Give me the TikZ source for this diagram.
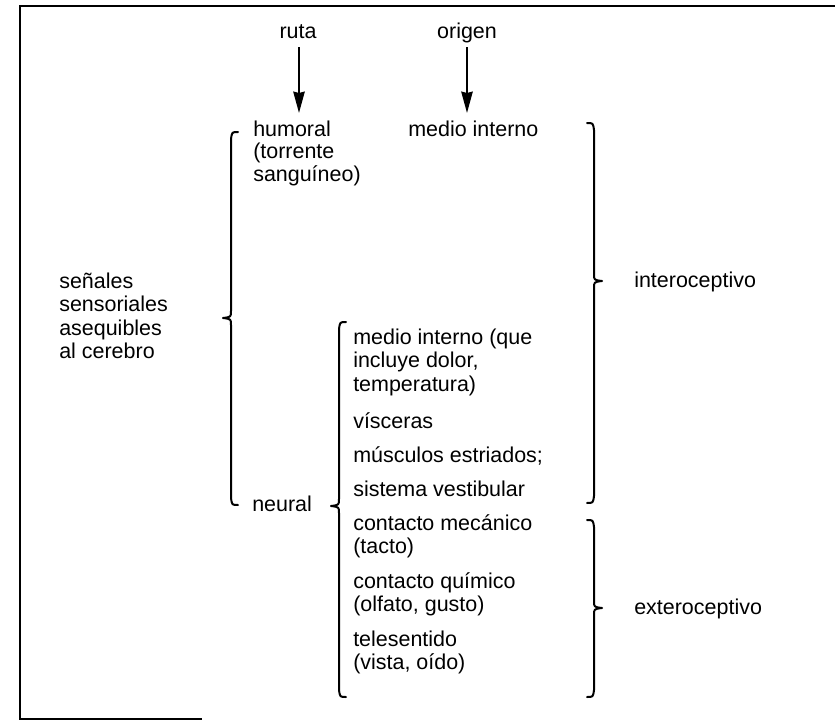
\documentclass[tikz,border=0pt]{standalone}
\usepackage{fontspec}
\setmainfont{Liberation Sans}
\usetikzlibrary{arrows.meta}

% closing brace: x of the stem, top, cusp, bottom (pixel units, y downwards)
\newcommand\BrClose[4]{%
  \draw[brc] (#1-7,#2) .. controls (#1-1,#2) .. (#1,#2+7) -- (#1,#3-7)
    .. controls (#1,#3-1) .. (#1+8,#3) .. controls (#1,#3+1) .. (#1,#3+7)
    -- (#1,#4-7) .. controls (#1-1,#4) .. (#1-7,#4);}
% opening brace: x of the stem, top, cusp, bottom
\newcommand\BrOpen[4]{%
  \draw[brc] (#1+7,#2) .. controls (#1+1,#2) .. (#1,#2+7) -- (#1,#3-7)
    .. controls (#1,#3-1) .. (#1-8,#3) .. controls (#1,#3+1) .. (#1,#3+7)
    -- (#1,#4-7) .. controls (#1+1,#4) .. (#1+7,#4);}

\begin{document}
\begin{tikzpicture}[x=0.75pt,y=-0.75pt,
  txt/.style={inner sep=0pt,anchor=base west,font=\fontsize{16.1}{17}\selectfont},
  hdr/.style={txt,anchor=base},
  brc/.style={line width=1.5pt,line cap=round,line join=round},
  frame/.style={line width=1.2pt},
  flecha/.style={line width=1.6pt,-{Stealth[length=16pt,width=8.5pt,inset=1pt]}}]

\useasboundingbox (0,0) rectangle (835,721);

% open frame
\draw[frame] (835,6) -- (20,6) -- (20,719) -- (202,719);

% column headings and arrows
\node[hdr] (ruta) at (298,38) {ruta};
\node[hdr] (origen) at (467,38) {origen};
\coordinate (rutafin) at (299,113);
\coordinate (origenfin) at (467,113);
\draw[flecha] ([xshift=0.75pt,yshift=-7pt]ruta.base) -- (rutafin);
\draw[flecha] ([yshift=-7pt]origen.base) -- (origenfin);

% left label
\node[txt] (s1) at (59,288) {señales};
\node[txt] (s2) at (59,311.5) {sensoriales};
\node[txt] (s3) at (59,335) {asequibles};
\node[txt] (s4) at (59,358.5) {al cerebro};

% humoral route
\node[txt] (h1) at (253,136) {humoral};
\node[txt] (h2) at (253,158.5) {(torrente};
\node[txt] (h3) at (253,181) {sanguíneo)};
\node[txt] (mi) at (408,136) {medio interno};

% neural route
\node[txt] (neural) at (252,511) {neural};
\node[txt] (n1) at (353,344) {medio interno (que};
\node[txt] (n2) at (353,367.5) {incluye dolor,};
\node[txt] (n3) at (353,391) {temperatura)};
\node[txt] (n4) at (353,428) {vísceras};
\node[txt] (n5) at (353,462) {músculos estriados;};
\node[txt] (n6) at (353,496) {sistema vestibular};
\node[txt] (n7) at (353,530) {contacto mecánico};
\node[txt] (n8) at (353,553.5) {(tacto)};
\node[txt] (n9) at (353,588) {contacto químico};
\node[txt] (n10) at (353,611.5) {(olfato, gusto)};
\node[txt] (n11) at (353,646) {telesentido};
\node[txt] (n12) at (353,669.5) {(vista, oído)};

% classes
\node[txt] (intero) at (634,287) {interoceptivo};
\node[txt] (extero) at (634,614) {exteroceptivo};

% braces
\BrOpen{231}{132}{318}{505}
\BrOpen{339}{322}{506}{697}
\BrClose{594}{123}{281}{503}
\BrClose{594}{520}{608}{697}

\end{tikzpicture}
\end{document}
